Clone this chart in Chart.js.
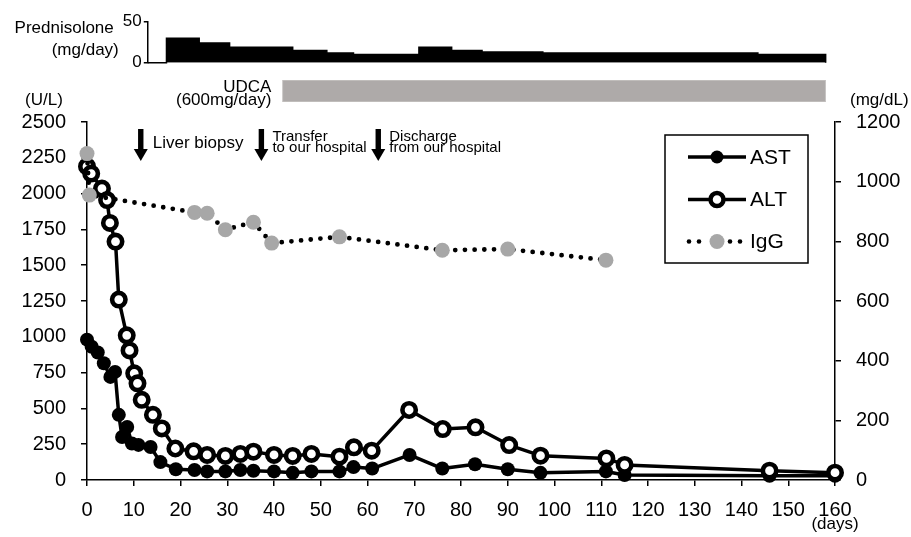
<!DOCTYPE html>
<html><head><meta charset="utf-8">
<script src="https://cdn.jsdelivr.net/npm/chart.js@4.4.1/dist/chart.umd.min.js"></script>
<style>
html,body{margin:0;padding:0;background:#fff;}
#wrap{position:relative;width:911px;height:537px;overflow:hidden;}
canvas{position:absolute;left:0;top:0;}
</style></head><body>
<div id="wrap">
<canvas id="main" width="911" height="537"></canvas>
<canvas id="pred" width="911" height="75"></canvas>
<canvas id="udca" width="911" height="110"></canvas>
</div>
<script>
// ---- data ----
const astDays   = [0, 1, 2.3, 3.6, 5, 6, 6.8, 7.5, 8.6, 9.6, 11, 13.6, 15.7, 19, 23, 25.7, 29.6, 32.8, 35.6, 40, 44, 48, 54, 57, 61, 69, 76, 83, 90, 97, 111, 115, 146, 160];
const astValues = [980, 930, 890, 815, 720, 755, 455, 300, 370, 255, 245, 230, 125, 75, 70, 60, 60, 70, 65, 60, 50, 60, 60, 90, 80, 175, 80, 110, 75, 50, 60, 35, 30, 30];
const altDays   = [0, 0.9, 3.2, 4.3, 4.9, 6.1, 6.8, 8.5, 9.1, 10.1, 10.8, 11.7, 14.1, 16, 18.9, 22.8, 25.7, 29.6, 32.8, 35.6, 40, 44, 48, 54, 57.1, 60.9, 68.9, 76.1, 83.1, 90.3, 97, 111.1, 115, 146, 160];
const altValues = [2190, 2140, 2035, 1955, 1795, 1665, 1260, 1010, 905, 745, 675, 560, 455, 360, 220, 200, 175, 168, 182, 198, 175, 168, 182, 163, 228, 205, 489, 356, 368, 244, 170, 151, 105, 65, 51];
const iggDays   = [0, 0.5, 23, 25.7, 29.6, 35.6, 39.5, 54, 76, 90, 111];
const iggValues = [1094, 955, 897, 894, 839, 864, 794, 815, 770, 774, 737];
const predDays  = [13, 17, 24, 30.5, 44, 51.3, 57, 71, 78, 84.5, 97.5, 143.5, 158];
const predDoses = [0, 30, 24, 19, 15, 12, 10, 19, 15, 13, 12, 10, 0];
const udcaStart = 41.8;
const udcaEnd   = 158;
const eventDays   = [11.5, 37.3, 62.3];
const eventLabels = [["Liver biopsy"], ["Transfer", "to our hospital"], ["Discharge", "from our hospital"]];
const legendNames = ["AST", "ALT", "IgG"];

const FONT = '"Liberation Sans", Arial, Helvetica, sans-serif';
const toPts = (xs, ys) => xs.map((d, i) => ({x: d, y: ys[i]}));
const GRAY = '#a7a7a7';
const plain = v => String(v);

// ---- main chart ----
const annotPlugin = {
  id: 'annot',
  afterDraw(chart) {
    const ctx = chart.ctx, ca = chart.chartArea, xs = chart.scales.x;
    ctx.save();
    ctx.fillStyle = '#000';
    ctx.textBaseline = 'middle';
    ctx.font = '17px ' + FONT;
    ctx.textAlign = 'center';
    ctx.fillText('(U/L)', ca.left - 43, 100);
    ctx.textAlign = 'left';
    ctx.fillText('(mg/dL)', ca.right + 15, 100);
    ctx.textAlign = 'center';
    ctx.fillText('(days)', ca.right, 524);
    eventDays.forEach((d, i) => {
      const x = xs.getPixelForValue(d);
      const y0 = ca.top + 7, y1 = ca.top + 39;
      ctx.fillRect(x - 2.7, y0, 5.4, y1 - y0 - 11);
      ctx.beginPath();
      ctx.moveTo(x - 7, y1 - 12); ctx.lineTo(x + 7, y1 - 12); ctx.lineTo(x, y1); ctx.closePath();
      ctx.fill();
      ctx.textAlign = 'left';
      const lines = eventLabels[i];
      if (lines.length === 1) {
        ctx.font = '17px ' + FONT;
        ctx.fillText(lines[0], x + 12, ca.top + 21);
      } else {
        ctx.font = '15px ' + FONT;
        ctx.fillText(lines[0], x + 11, ca.top + 14.5);
        ctx.fillText(lines[1], x + 11, ca.top + 26);
      }
    });
    const bx = ca.right - 170, by = ca.top + 13, bw = 143, bh = 128;
    ctx.lineWidth = 1.5; ctx.strokeStyle = '#000';
    ctx.strokeRect(bx, by, bw, bh);
    const rows = [by + 22, by + 64.5, by + 106.5];
    const lx0 = bx + 23, lx1 = bx + 81, mx = bx + 52;
    ctx.font = '21px ' + FONT;
    ctx.textAlign = 'left';
    rows.forEach((ry, i) => {
      if (i < 2) {
        ctx.lineWidth = 3.5;
        ctx.beginPath(); ctx.moveTo(lx0, ry); ctx.lineTo(lx1, ry); ctx.stroke();
        ctx.beginPath(); ctx.arc(mx, ry, 6.5, 0, Math.PI * 2);
        if (i === 0) { ctx.fillStyle = '#000'; ctx.fill(); }
        else { ctx.fillStyle = '#fff'; ctx.fill(); ctx.lineWidth = 4.5; ctx.stroke(); }
      } else {
        ctx.fillStyle = '#000';
        [lx0 + 1, lx0 + 11, lx1 - 16, lx1 - 6].forEach(dx => {
          ctx.beginPath(); ctx.arc(dx, ry, 2.3, 0, Math.PI * 2); ctx.fill();
        });
        ctx.fillStyle = GRAY;
        ctx.beginPath(); ctx.arc(mx, ry, 7.5, 0, Math.PI * 2); ctx.fill();
      }
      ctx.fillStyle = '#000';
      ctx.fillText(legendNames[i], bx + 85, ry + 1);
    });
    ctx.restore();
  }
};

const tickFont = {family: FONT, size: 20};
const axisCommon = {
  grid: {display: true, drawOnChartArea: false, color: '#000', lineWidth: 1.5, tickLength: 6},
  border: {display: true, color: '#000', width: 1.5},
};

const mainChart = new Chart(document.getElementById('main'), {
  type: 'line',
  data: {
    datasets: [
      {label: 'AST', data: toPts(astDays, astValues), yAxisID: 'y', order: 2, clip: false,
       borderColor: '#000', borderWidth: 3.5, borderJoinStyle: 'round',
       pointRadius: 7, pointBackgroundColor: '#000', pointBorderColor: '#000', pointBorderWidth: 0},
      {label: 'ALT', data: toPts(altDays, altValues), yAxisID: 'y', order: 1, clip: false,
       borderColor: '#000', borderWidth: 3.5, borderJoinStyle: 'round',
       pointRadius: 6.7, pointBackgroundColor: '#fff', pointBorderColor: '#000', pointBorderWidth: 4.6},
      {label: 'IgG', data: toPts(iggDays, iggValues), yAxisID: 'y2', order: 0, clip: false,
       borderColor: '#000', borderWidth: 4.8, borderDash: [0, 9.7], borderCapStyle: 'round',
       pointRadius: 7.5, pointBackgroundColor: GRAY, pointBorderColor: GRAY, pointBorderWidth: 0}
    ]
  },
  options: {
    responsive: false, animation: false, devicePixelRatio: 1, events: [],
    layout: {padding: {top: 122, left: 0, right: 0, bottom: 0}},
    plugins: {legend: {display: false}, tooltip: {enabled: false}},
    scales: {
      x: Object.assign({type: 'linear', min: 0, max: 160,
        ticks: {stepSize: 10, font: tickFont, color: '#000', padding: 12, maxRotation: 0, autoSkip: false, callback: plain},
        afterFit: s => { s.height = 57; }}, axisCommon),
      y: Object.assign({type: 'linear', position: 'left', min: 0, max: 2500,
        ticks: {stepSize: 250, font: tickFont, color: '#000', padding: 15, callback: plain},
        afterFit: s => { s.width = 87; }}, axisCommon),
      y2: Object.assign({type: 'linear', position: 'right', min: 0, max: 1200,
        ticks: {stepSize: 200, font: tickFont, color: '#000', padding: 15, callback: plain},
        afterFit: s => { s.width = 76; }}, axisCommon)
    }
  },
  plugins: [annotPlugin]
});

// ---- top panels aligned with main x scale ----
const mca = mainChart.chartArea;
const topMin = 13;
const leftPx = mainChart.scales.x.getPixelForValue(topMin);
const rightPad = 911 - mca.right;

const predLabelPlugin = {
  id: 'predLabel',
  afterDraw(chart) {
    const ctx = chart.ctx, ca = chart.chartArea;
    ctx.save();
    ctx.fillStyle = '#000'; ctx.textBaseline = 'middle'; ctx.textAlign = 'right';
    ctx.font = '17px ' + FONT;
    ctx.fillText('Prednisolone', ca.left - 34, 28.5);
    ctx.fillText('(mg/day)', ca.left - 29, 50);
    ctx.restore();
  }
};

new Chart(document.getElementById('pred'), {
  type: 'line',
  data: {datasets: [{label: 'Prednisolone', data: toPts(predDays, predDoses), stepped: 'before', fill: 'origin',
    backgroundColor: '#000', borderColor: '#000', borderWidth: 1.5, pointRadius: 0, clip: false}]},
  options: {
    responsive: false, animation: false, devicePixelRatio: 1, events: [],
    layout: {padding: {left: 0, right: rightPad, top: 21.7, bottom: 75 - 64.3}},
    plugins: {legend: {display: false}, tooltip: {enabled: false}},
    scales: {
      x: {type: 'linear', min: topMin, max: 160, display: false},
      y: {type: 'linear', min: 0, max: 50,
        ticks: {stepSize: 25, font: {family: FONT, size: 17}, color: '#000', padding: 2,
          callback: v => (v === 25 ? '' : String(v))},
        grid: {display: true, drawOnChartArea: false, color: '#000', lineWidth: 1.5, tickLength: 4},
        border: {display: true, color: '#000', width: 1.5},
        afterFit: s => { s.width = leftPx; }}
    }
  },
  plugins: [predLabelPlugin]
});

const udcaLabelPlugin = {
  id: 'udcaLabel',
  afterDraw(chart) {
    const ctx = chart.ctx, x = chart.scales.x.getPixelForValue(udcaStart);
    ctx.save();
    ctx.fillStyle = '#000'; ctx.textBaseline = 'middle'; ctx.textAlign = 'right';
    ctx.font = '17px ' + FONT;
    ctx.fillText('UDCA', x - 11, 87.5);
    ctx.fillText('(600mg/day)', x - 11, 100.5);
    ctx.restore();
  }
};

new Chart(document.getElementById('udca'), {
  type: 'bar',
  data: {labels: ['UDCA'], datasets: [{label: 'UDCA', data: [[udcaStart, udcaEnd]],
    backgroundColor: '#aeaaa9', borderColor: '#c6c3c2', borderWidth: 1, borderSkipped: false,
    barPercentage: 1, categoryPercentage: 1}]},
  options: {
    indexAxis: 'y', responsive: false, animation: false, devicePixelRatio: 1, events: [],
    layout: {padding: {left: leftPx, right: rightPad, top: 80, bottom: 110 - 102}},
    plugins: {legend: {display: false}, tooltip: {enabled: false}},
    scales: {
      x: {type: 'linear', min: topMin, max: 160, display: false},
      y: {type: 'category', display: false}
    }
  },
  plugins: [udcaLabelPlugin]
});
</script>
</body></html>
